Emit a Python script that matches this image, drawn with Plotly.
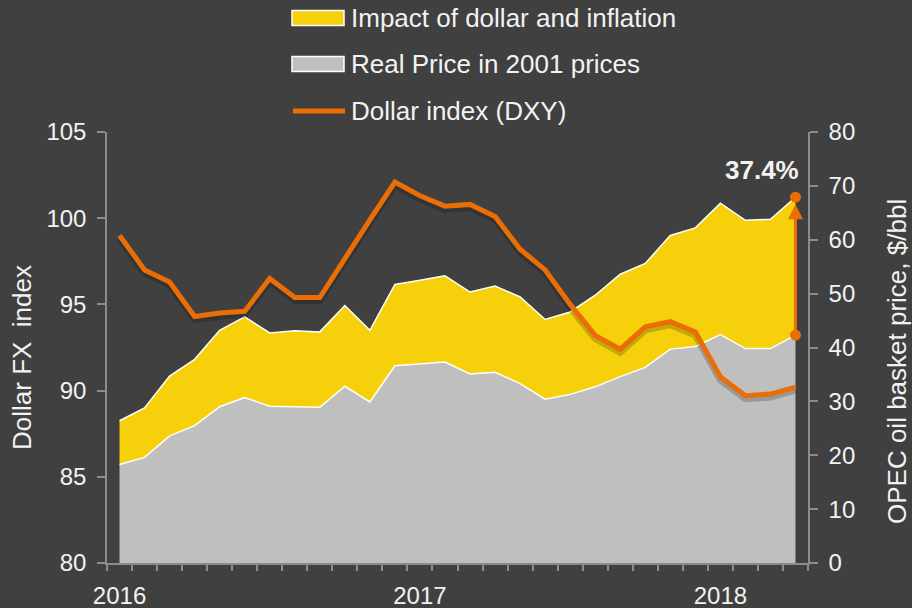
import plotly.graph_objects as go

# monthly, Jan 2016 .. Apr 2018
months = ["2016-01", "2016-02", "2016-03", "2016-04", "2016-05", "2016-06",
          "2016-07", "2016-08", "2016-09", "2016-10", "2016-11", "2016-12",
          "2017-01", "2017-02", "2017-03", "2017-04", "2017-05", "2017-06",
          "2017-07", "2017-08", "2017-09", "2017-10", "2017-11", "2017-12",
          "2018-01", "2018-02", "2018-03", "2018-04"]

# OPEC basket, $/bbl (right axis)
real_price = [18.3, 19.6, 23.6, 25.5, 29.0, 30.7, 29.1, 29.0, 28.9, 32.8, 29.9, 36.6,
              36.9, 37.3, 35.1, 35.4, 33.3, 30.4, 31.3, 32.7, 34.6, 36.3, 39.7, 40.2,
              42.4, 39.8, 39.8, 42.3]
nominal_price = [26.4, 28.8, 34.7, 37.8, 43.2, 45.7, 42.7, 43.1, 42.9, 47.8, 43.2, 51.7,
                 52.5, 53.3, 50.3, 51.4, 49.4, 45.2, 46.6, 49.7, 53.6, 55.6, 60.8, 62.2,
                 66.8, 63.6, 63.8, 67.9]

# Dollar index (left axis)
dxy = [99.0, 97.0, 96.3, 94.3, 94.5, 94.6, 96.5, 95.4, 95.4, 97.7, 99.9, 102.1,
       101.3, 100.7, 100.8, 100.1, 98.2, 97.0, 95.0, 93.2, 92.4, 93.7, 94.0, 93.4,
       90.8, 89.7, 89.8, 90.2]

impact_label = "37.4%"

tick_text = [m[:4] if m.endswith("-01") else "" for m in months]

BG = "#404040"
YELLOW = "#F6D10B"
GREY = "#BFBFBF"
ORANGE = "#EA6E05"
AXIS = "#8C8C8C"
TEXT = "#F2F2F2"
FONT = "Liberation Sans, Arial, sans-serif"

W, H = 912, 608
L, R, T, B = 107, 104, 132, 45
PW, PH = W - L - R, H - T - B


def px(x):
    return (x - L) / PW


def py(y):
    return (H - B - y) / PH


fig = go.Figure()

fig.add_trace(go.Scatter(
    x=months, y=real_price, mode="lines", yaxis="y",
    line=dict(color="white", width=1.5), fill="tozeroy", fillcolor=GREY,
    name="Real Price in 2001 prices", showlegend=False,
))
fig.add_trace(go.Scatter(
    x=months, y=nominal_price, mode="lines", yaxis="y",
    line=dict(color="white", width=1.5), fill="tonexty", fillcolor=YELLOW,
    name="Impact of dollar and inflation", showlegend=False,
))
fig.add_trace(go.Scatter(
    x=[months[-1], months[-1]], y=[real_price[-1], nominal_price[-1]],
    mode="markers", yaxis="y", marker=dict(color=ORANGE, size=11),
    showlegend=False, hoverinfo="skip",
))

# soft shadow under the dollar line
fig.add_trace(go.Scatter(
    x=months, y=dxy, mode="lines", yaxis="y2",
    line=dict(color="rgba(0,0,0,0.2)", width=7),
    showlegend=False, hoverinfo="skip",
))
fig.add_trace(go.Scatter(
    x=months, y=dxy, mode="lines", yaxis="y3",
    line=dict(color=ORANGE, width=5),
    name="Dollar index (DXY)", showlegend=False,
))

shift = 3 * 25 / PH
axis_common = dict(
    showgrid=False, zeroline=False, showline=True, linecolor=AXIS, linewidth=1.5,
    ticks="outside", ticklen=8, tickcolor=AXIS, tickwidth=1.5, automargin=False,
    tickfont=dict(size=24, color=TEXT, family=FONT), ticklabelstandoff=6,
)

fig.update_layout(
    width=W, height=H,
    paper_bgcolor=BG, plot_bgcolor=BG,
    margin=dict(l=L, r=R, t=T, b=B, autoexpand=False),
    font=dict(family=FONT, color=TEXT),
    showlegend=False,
    xaxis=dict(
        type="category", categoryorder="array", categoryarray=months,
        range=[-0.5, len(months) - 0.5], automargin=False,
        tickmode="array", tickvals=months, ticktext=tick_text, tickangle=0,
        tickson="boundaries", ticks="outside", ticklen=6, tickcolor=AXIS, tickwidth=1.5,
        showline=True, linecolor=AXIS, linewidth=1.5, showgrid=False, zeroline=False,
        tickfont=dict(size=24, color=TEXT, family=FONT), ticklabelstandoff=10,
    ),
    yaxis=dict(side="right", range=[0, 80], dtick=10, **axis_common),
    yaxis2=dict(overlaying="y", range=[80 + shift, 105 + shift], visible=False),
    yaxis3=dict(overlaying="y", side="left", range=[80, 105], dtick=5, **axis_common),
)

# axis titles
fig.add_annotation(xref="paper", yref="paper", x=px(22), y=py(358), text="Dollar FX  index",
                   textangle=-90, showarrow=False, xanchor="center", yanchor="middle",
                   font=dict(size=26, color=TEXT))
fig.add_annotation(xref="paper", yref="paper", x=px(897), y=py(362),
                   text="OPEC oil basket price, $/bbl", xanchor="center", yanchor="middle",
                   textangle=-90, showarrow=False, font=dict(size=26, color=TEXT))

# up arrow from real to nominal price, last month
fig.add_annotation(x=months[-1], y=nominal_price[-1], ax=months[-1], ay=real_price[-1],
                   xref="x", yref="y", axref="x", ayref="y", text="",
                   showarrow=True, arrowhead=2, arrowsize=1, arrowwidth=3,
                   arrowcolor=ORANGE, standoff=7)
fig.add_annotation(x=months[-1], y=nominal_price[-1], xref="x", yref="y",
                   text="<b>" + impact_label + "</b>", showarrow=False,
                   xanchor="right", yanchor="bottom", xshift=6, yshift=10,
                   font=dict(size=26, color=TEXT))

# legend drawn by hand
legend_items = [("Impact of dollar and inflation", YELLOW, "box", 18),
                ("Real Price in 2001 prices", GREY, "box", 64),
                ("Dollar index (DXY)", ORANGE, "line", 111)]
for label, color, kind, yc in legend_items:
    if kind == "box":
        fig.add_shape(type="rect", xref="paper", yref="paper",
                      x0=px(292), x1=px(344), y0=py(yc - 7.5), y1=py(yc + 7.5),
                      fillcolor=color, line=dict(color="white", width=1.5))
    else:
        fig.add_shape(type="line", xref="paper", yref="paper",
                      x0=px(293), x1=px(345), y0=py(yc), y1=py(yc),
                      line=dict(color=color, width=5))
    fig.add_annotation(xref="paper", yref="paper", x=px(349), y=py(yc), text=label,
                       xanchor="left", yanchor="middle", showarrow=False,
                       font=dict(size=26, color=TEXT))

# the page's default body margin would push the 912x608 figure off the window
fig.write_html("out.html", config={"displayModeBar": False},
               post_script="document.body.style.margin='0';"
                           "document.body.style.background='" + BG + "';")
